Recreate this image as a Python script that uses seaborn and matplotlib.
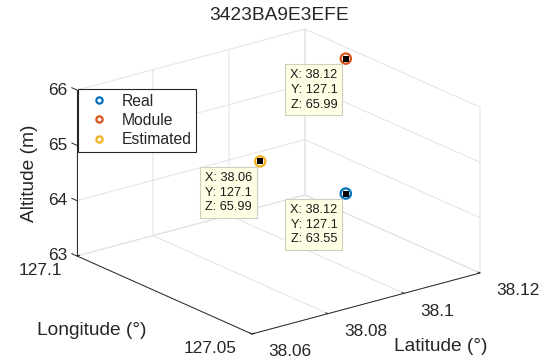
import numpy as np
import pandas as pd
import matplotlib
matplotlib.use("Agg")
import matplotlib.pyplot as plt
from matplotlib.lines import Line2D
import seaborn as sns
from mpl_toolkits.mplot3d import proj3d

# ---------------- data ----------------
title = "3423BA9E3EFE"
series = ["Real", "Module", "Estimated"]
latitude = [38.116, 38.116, 38.064]
longitude = [127.084, 127.084, 127.052]
altitude = [63.55, 65.99, 65.99]
colors = ["#0072BD", "#D95319", "#EDB120"]
tip_series = ["Module", "Estimated", "Real"]

lat_ticks = [38.06, 38.08, 38.10, 38.12]
lat_ticklabels = ["38.06", "38.08", "38.1", "38.12"]
lon_ticks = [127.05, 127.10]
lon_ticklabels = ["127.05", "127.1"]
alt_ticks = [63, 64, 65, 66]
alt_ticklabels = ["63", "64", "65", "66"]
lat_label = "Latitude (°)"
lon_label = "Longitude (°)"
alt_label = "Altitude (m)"

df = pd.DataFrame({"series": series, "lat": latitude, "lon": longitude, "alt": altitude})

# ---------------- style ----------------
sns.set_theme(style="white")
plt.rcParams.update({
    "font.family": ["Liberation Sans", "DejaVu Sans"],
    "axes.edgecolor": "#262626",
    "axes.linewidth": 0.7,
    "grid.color": "#e2e2e2",
    "grid.linewidth": 0.7,
    "grid.linestyle": "-",
    "xtick.color": "#262626",
    "ytick.color": "#262626",
    "xtick.major.width": 0.7,
    "ytick.major.width": 0.7,
    "text.color": "#262626",
})
palette = dict(zip(series, sns.color_palette(colors)))
INK = "#262626"

fig = plt.figure(figsize=(5.45, 3.61), dpi=100)
ax = fig.add_axes([0.1708, -0.0163, 0.6624, 1.0], projection="3d",
                  proj_type="ortho", computed_zorder=False)
ax.set_xlim(lat_ticks[0], lat_ticks[-1])
ax.set_ylim(lon_ticks[0], lon_ticks[-1])
ax.set_zlim(alt_ticks[0], alt_ticks[-1])
ax.set_box_aspect((1, 0.991, 0.613), zoom=1.191)
ax.view_init(elev=20.2, azim=-127.76)
ax.grid(True)

ax.set_xticks(lat_ticks)
ax.set_yticks(lon_ticks)
ax.set_zticks(alt_ticks)
ax.set_xticklabels([""] * len(lat_ticks))
ax.set_yticklabels([""] * len(lon_ticks))
ax.set_zticklabels([""] * len(alt_ticks))
ax.set_xlabel("")
ax.set_ylabel("")
ax.set_zlabel("")

for a in (ax.xaxis, ax.yaxis, ax.zaxis):
    a.set_pane_color((1, 1, 1, 0))
    a.pane.set_edgecolor("#e2e2e2")
    a._axinfo["tick"]["inward_factor"] = 0.0
    a._axinfo["tick"]["outward_factor"] = 0.15
# the z axis is drawn on the left edge below
ax.zaxis.line.set_color((0, 0, 0, 0))
ax.zaxis._axinfo["tick"]["outward_factor"] = 0.0

# left vertical z axis with small ticks
lat0, lon1 = lat_ticks[0], lon_ticks[-1]
ax.plot([lat0, lat0], [lon1, lon1], [alt_ticks[0], alt_ticks[-1]],
        color=INK, lw=0.7, zorder=3, clip_on=False)
tick_len = (lon_ticks[-1] - lon_ticks[0]) * 0.03
for v in alt_ticks:
    ax.plot([lat0, lat0], [lon1, lon1 + tick_len], [v, v],
            color=INK, lw=0.7, zorder=3, clip_on=False)

# ---------------- points ----------------
for _, row in df.iterrows():
    ax.scatter([row.lat], [row.lon], [row.alt], marker="o", s=55,
               facecolors="none", edgecolors=[palette[row.series]],
               linewidths=1.6, depthshade=False, zorder=4)

tips = df.set_index("series").loc[tip_series]
ax.scatter(tips.lat, tips.lon, tips.alt, marker="s", s=22, c="black",
           linewidths=0, depthshade=False, zorder=5)

M = ax.get_proj()


def to2d(x, y, z):
    xs, ys, _ = proj3d.proj_transform(np.atleast_1d(x), np.atleast_1d(y),
                                      np.atleast_1d(z), M)
    return float(xs[0]), float(ys[0])


# data tips
for s, row in tips.iterrows():
    txt = f"X: {row.lat:.4g}\nY: {row.lon:.4g}\nZ: {row.alt:.4g}"
    ax.annotate(txt, xy=to2d(row.lat, row.lon, row.alt), xycoords="data",
                xytext=(-8.5, -10.5), textcoords="offset pixels",
                ha="right", va="top", fontsize=9.2, linespacing=1.3,
                color="#1a1a1a", zorder=10, annotation_clip=False,
                bbox=dict(boxstyle="square,pad=0.38", fc="#FFFFE6",
                          ec="#CFCFC0", lw=0.8))

# tick labels
TICK_FS = 12.4
for v, lab in zip(lat_ticks, lat_ticklabels):
    ax.annotate(lab, xy=to2d(v, lon_ticks[0], alt_ticks[0]), xytext=(16, -18),
                textcoords="offset pixels", ha="left", va="center",
                fontsize=TICK_FS, color=INK, annotation_clip=False)
for v, lab in zip(lon_ticks, lon_ticklabels):
    ax.annotate(lab, xy=to2d(lat_ticks[0], v, alt_ticks[0]), xytext=(-15, -15),
                textcoords="offset pixels", ha="right", va="center",
                fontsize=TICK_FS, color=INK, annotation_clip=False)
for v, lab in zip(alt_ticks, alt_ticklabels):
    ax.annotate(lab, xy=to2d(lat_ticks[0], lon_ticks[-1], v), xytext=(-10, 0),
                textcoords="offset pixels", ha="right", va="center",
                fontsize=TICK_FS, color=INK, annotation_clip=False)

# axis labels
LAB_FS = 13.8
lat_mid = (lat_ticks[0] + lat_ticks[-1]) / 2
lon_mid = (lon_ticks[0] + lon_ticks[-1]) / 2
alt_mid = (alt_ticks[0] + alt_ticks[-1]) / 2
ax.annotate(lat_label, xy=to2d(lat_mid, lon_ticks[0], alt_ticks[0]), xytext=(75, -43.5),
            textcoords="offset pixels", ha="center", va="center",
            fontsize=LAB_FS, color=INK, annotation_clip=False)
ax.annotate(lon_label, xy=to2d(lat_ticks[0], lon_mid, alt_ticks[0]), xytext=(-72.5, -36),
            textcoords="offset pixels", ha="center", va="center",
            fontsize=LAB_FS, color=INK, annotation_clip=False)
ax.annotate(alt_label, xy=to2d(lat_ticks[0], lon_ticks[-1], alt_mid), xytext=(-47, 0),
            textcoords="offset pixels", ha="center", va="center", rotation=90,
            fontsize=LAB_FS, color=INK, annotation_clip=False)

fig.text(0.512, 1 - 15 / 361, title, ha="center", va="center",
         fontsize=13.8, color=INK)

handles = [Line2D([], [], marker="o", ls="none", mfc="none", mec=palette[s],
                  mew=1.6, ms=4.5, label=s) for s in series]
leg = fig.legend(handles=handles, loc="upper left",
                 bbox_to_anchor=(78 / 545, 1 - 89 / 361),
                 bbox_transform=fig.transFigure, borderaxespad=0,
                 fontsize=11.3, frameon=True, fancybox=False, framealpha=1,
                 edgecolor=INK, borderpad=0.29, labelspacing=0.27,
                 handlelength=2.1, handletextpad=0.39)
leg.get_frame().set_linewidth(0.8)

fig.savefig("out.png", dpi=100)
